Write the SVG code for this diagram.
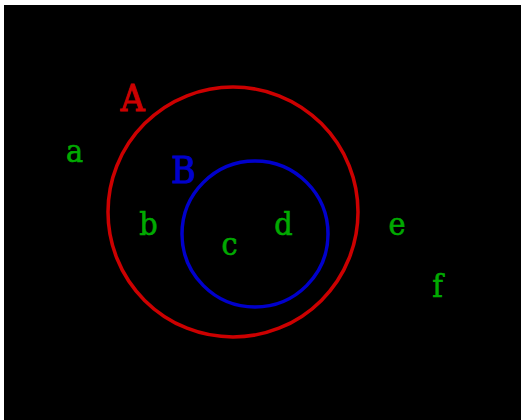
<svg xmlns="http://www.w3.org/2000/svg" width="521" height="420" viewBox="0 0 521 420">
<style>
.set{fill:none;stroke-width:3.5}
.lbl{font-family:"DejaVu Serif Condensed","DejaVu Serif",serif;font-size:37px;text-anchor:middle;stroke-width:1}
.el{font-family:"DejaVu Serif Condensed","DejaVu Serif",serif;font-size:32px;fill:#00aa00;stroke:#00aa00;stroke-width:0.6;text-anchor:middle}
</style>
<rect x="0" y="0" width="521" height="420" fill="#ffffff"/>
<rect x="4" y="5" width="517" height="415" fill="#000000"/>
<g id="setA">
<circle class="set" cx="233" cy="212" r="125" stroke="#cc0000"/>
<text class="lbl" x="132.5" y="111" fill="#cc0000" stroke="#cc0000">A</text>
</g>
<g id="setB">
<circle class="set" cx="255" cy="234" r="73" stroke="#0000cc"/>
<text class="lbl" x="183.5" y="183" fill="#0000cc" stroke="#0000cc">B</text>
</g>
<g id="elements">
<text class="el" x="74.5" y="162">a</text>
<text class="el" x="148.5" y="235">b</text>
<text class="el" x="229.5" y="255">c</text>
<text class="el" x="283.5" y="235">d</text>
<text class="el" x="397" y="235">e</text>
<text class="el" x="437.5" y="297">f</text>
</g>
</svg>
